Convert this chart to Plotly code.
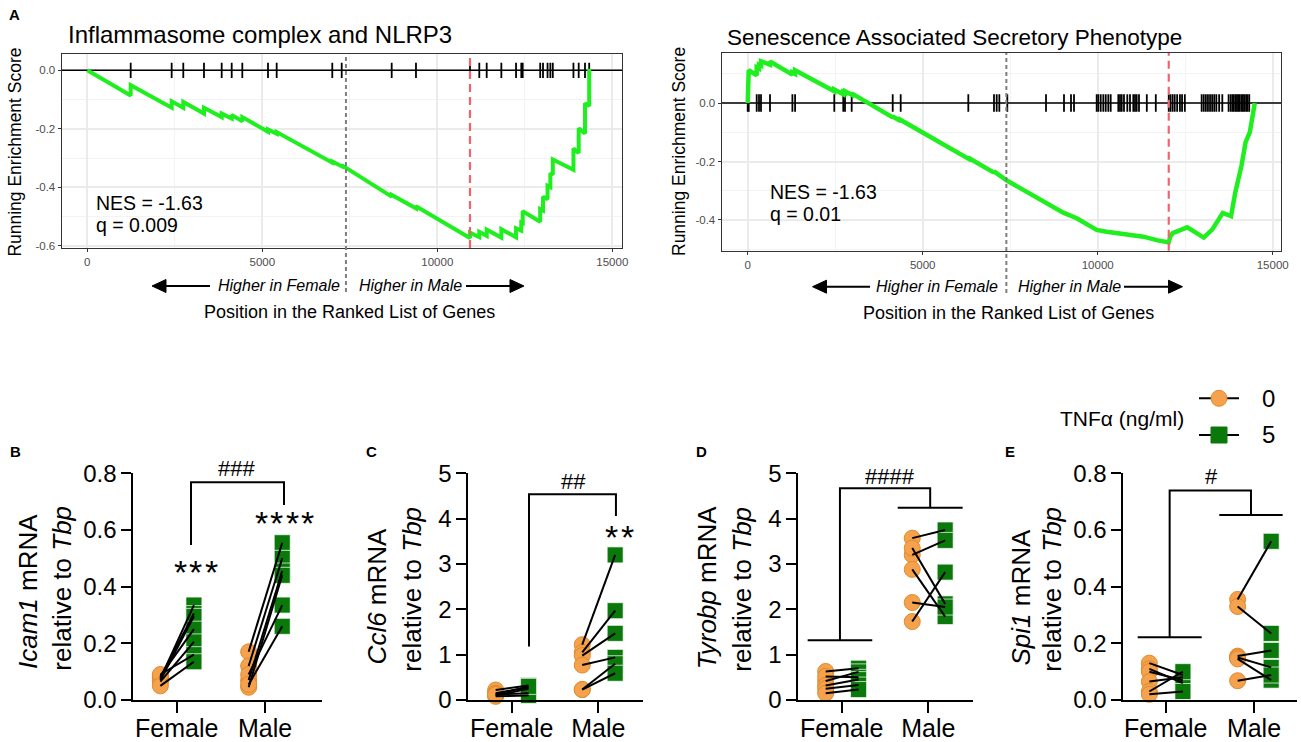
import plotly.graph_objects as go

W, H = 1301, 742
def px(x): return x / W
def py(y): return 1 - y / H

FONT = "Liberation Sans"

# ---------------- data: GSEA (panel A) ----------------
nlrp3_hits = [1240, 2411, 2743, 3334, 3840, 4126, 4429, 5163, 5411, 7000, 7269, 8697, 9391,
              10934, 11200, 11411, 11830, 12250, 12400, 12440, 12940, 13020, 13150, 13230, 13300,
              13890, 14040, 14220, 14340]
nlrp3_es_x = [0, 1240, 1240, 2411, 2411, 2743, 2743, 3334, 3334, 3840, 3840, 4126, 4126, 4429, 4429,
              5163, 5163, 5411, 5411, 7000, 7000, 7269, 7269, 8697, 8697, 9391, 9391,
              10934, 10934, 11200, 11200, 11411, 11411, 11830, 11830, 12250, 12250, 12400, 12400,
              12440, 12440, 12940, 12940, 13020, 13020, 13150, 13150, 13230, 13230, 13300, 13300,
              13890, 13890, 14040, 14040, 14220, 14220, 14340, 14340]
nlrp3_es_y = [0, -0.086, -0.051, -0.128, -0.106, -0.128, -0.108, -0.148, -0.128, -0.160, -0.148,
              -0.165, -0.153, -0.174, -0.160, -0.210, -0.202, -0.217, -0.211, -0.316, -0.312,
              -0.328, -0.324, -0.432, -0.426, -0.472, -0.465, -0.573, -0.555, -0.570, -0.552,
              -0.566, -0.545, -0.572, -0.543, -0.571, -0.540, -0.548, -0.520, -0.522, -0.482,
              -0.518, -0.474, -0.479, -0.432, -0.441, -0.395, -0.400, -0.352, -0.357, -0.305,
              -0.340, -0.267, -0.283, -0.198, -0.216, -0.113, -0.122, 0.005]

sasp_hits = [0, 29, 257, 323, 380, 637, 1277, 1354, 2474, 2731, 2780, 2971, 4143, 4371, 6303, 7037,
             7114, 7189, 7417, 8523, 9037, 9237, 9323, 9971, 10017, 10086, 10160, 10229, 10303, 10371,
             10589, 10637, 10686, 10751, 10846, 10923, 11017, 11066, 11114, 11180, 11403, 11660,
             12030, 12080, 12140, 12200, 12270, 12350, 12410, 12490, 12970, 13030, 13090, 13150,
             13210, 13270, 13330, 13390, 13470, 13560, 13740, 13800, 13850, 13890, 13940, 13980,
             14020, 14060, 14110, 14150, 14190, 14240, 14280, 14330]
sasp_es_x = [0, 0, 29, 257, 257, 323, 323, 380, 380, 637, 637, 1277, 1277, 1354, 1354, 2474, 2474,
             2731, 2731, 2780, 2780, 2971, 2971, 4143, 4143, 4371, 4371, 6303, 6303, 7037, 7037,
             7417, 8494, 9017, 9400, 9971, 10257, 10733, 11305, 11686, 12026, 12080, 12140, 12560,
             13030, 13270, 13572, 13810, 13929, 14107, 14226, 14345, 14428, 14488]
sasp_es_y = [0, 0.069, 0.112, 0.095, 0.122, 0.118, 0.131, 0.128, 0.143, 0.131, 0.142, 0.097, 0.104,
             0.099, 0.112, 0.040, 0.046, 0.030, 0.037, 0.034, 0.040, 0.028, 0.033, -0.049, -0.046,
             -0.062, -0.058, -0.190, -0.187, -0.238, -0.234, -0.266, -0.341, -0.375, -0.394,
             -0.434, -0.440, -0.449, -0.457, -0.469, -0.477, -0.455, -0.445, -0.425, -0.460,
             -0.433, -0.376, -0.387, -0.307, -0.215, -0.134, -0.100, -0.043, 0.0]

gsea_x_ticks = [0, 5000, 10000, 15000]

# ---------------- data: qPCR (panels B-E) ----------------
groups = ["Female", "Male"]
icam1_f0 = [0.075, 0.08, 0.07, 0.085, 0.065, 0.09, 0.05]
icam1_f5 = [0.335, 0.305, 0.295, 0.25, 0.205, 0.16, 0.135]
icam1_m0 = [0.17, 0.12, 0.07, 0.045, 0.09, 0.055]
icam1_m5 = [0.555, 0.50, 0.455, 0.44, 0.335, 0.26]
ccl6_f0 = [0.22, 0.15, 0.12, 0.10, 0.08, 0.12]
ccl6_f5 = [0.32, 0.28, 0.15, 0.25, 0.10, 0.30]
ccl6_m0 = [1.22, 1.05, 0.98, 0.77, 0.23, 0.23]
ccl6_m5 = [3.20, 1.97, 1.47, 0.94, 0.80, 0.59]
tyrobp_f0 = [0.63, 0.42, 0.52, 0.32, 0.25, 0.15]
tyrobp_f5 = [0.70, 0.62, 0.50, 0.45, 0.33, 0.23]
tyrobp_m0 = [3.57, 3.20, 3.35, 2.88, 2.15, 1.73]
tyrobp_m5 = [3.75, 3.52, 2.12, 1.84, 2.05, 2.82]
spi1_f0 = [0.13, 0.11, 0.10, 0.065, 0.03, 0.02]
spi1_f5 = [0.088, 0.06, 0.07, 0.08, 0.10, 0.03]
spi1_m0 = [0.355, 0.33, 0.155, 0.15, 0.145, 0.068]
spi1_m5 = [0.56, 0.235, 0.175, 0.115, 0.07, 0.088]

ORANGE = "#F5A24E"
ORANGE_EDGE = "#E08A2C"
GREEN = "#0B780B"
LIME = "#1FEE1F"

fig = go.Figure()

# ---------------- GSEA traces ----------------
def gsea(xa, ya, hits, ex, ey, th, lw, xr):
    fig.add_trace(go.Scatter(x=xr, y=[0, 0], mode="lines", line=dict(color="black", width=1.6),
                             xaxis=xa, yaxis=ya, showlegend=False, hoverinfo="skip"))
    hx, hy = [], []
    for h in hits:
        hx += [h, h, None]
        hy += [-th, th, None]
    fig.add_trace(go.Scatter(x=hx, y=hy, mode="lines", line=dict(color="black", width=1.8),
                             xaxis=xa, yaxis=ya, showlegend=False, hoverinfo="skip"))
    fig.add_trace(go.Scatter(x=ex, y=ey, mode="lines", line=dict(color=LIME, width=lw),
                             xaxis=xa, yaxis=ya, showlegend=False, hoverinfo="skip"))

XR1 = [-731, 15277]
XR2 = [-743, 15237]
gsea("x", "y", nlrp3_hits, nlrp3_es_x, nlrp3_es_y, 0.026, 4, XR1)
gsea("x2", "y2", sasp_hits, sasp_es_x, sasp_es_y, 0.03, 4.5, XR2)

# ---------------- paired dot plots ----------------
OFF0, OFF5 = -0.185, 0.195
def paired(n, f0, f5, m0, m5):
    xa, ya = "x%d" % n, "y%d" % n
    x0 = [1 + OFF0] * len(f0) + [2 + OFF0] * len(m0)
    y0 = f0 + m0
    x5 = [1 + OFF5] * len(f5) + [2 + OFF5] * len(m5)
    y5 = f5 + m5
    fig.add_trace(go.Scatter(x=x0, y=y0, mode="markers", xaxis=xa, yaxis=ya, cliponaxis=False,
                             marker=dict(symbol="circle", size=16, color=ORANGE,
                                         line=dict(color=ORANGE_EDGE, width=1)),
                             showlegend=False, hoverinfo="skip"))
    fig.add_trace(go.Scatter(x=x5, y=y5, mode="markers", xaxis=xa, yaxis=ya, cliponaxis=False,
                             marker=dict(symbol="square", size=16, color=GREEN,
                                         line=dict(color="rgba(255,255,255,0.7)", width=1)),
                             showlegend=False, hoverinfo="skip"))
    lx, ly = [], []
    for a, b in zip(f0, f5):
        lx += [1 + OFF0, 1 + OFF5, None]; ly += [a, b, None]
    for a, b in zip(m0, m5):
        lx += [2 + OFF0, 2 + OFF5, None]; ly += [a, b, None]
    fig.add_trace(go.Scatter(x=lx, y=ly, mode="lines", xaxis=xa, yaxis=ya,
                             line=dict(color="black", width=2), showlegend=False, hoverinfo="skip"))

paired(3, icam1_f0, icam1_f5, icam1_m0, icam1_m5)
paired(4, ccl6_f0, ccl6_f5, ccl6_m0, ccl6_m5)
paired(5, tyrobp_f0, tyrobp_f5, tyrobp_m0, tyrobp_m5)
paired(6, spi1_f0, spi1_f5, spi1_m0, spi1_m5)

# ---------------- axes ----------------
top_font = dict(family=FONT, size=11.5, color="#4D4D4D")
def top_x(dom, rng):
    return dict(domain=[px(dom[0]), px(dom[1])], range=rng, showline=True, mirror=True,
                linecolor="#333333", linewidth=1.3, ticks="outside", ticklen=3, tickcolor="#333333",
                tickwidth=1, showgrid=True, gridcolor="#EBEBEB", gridwidth=1.6, zeroline=False,
                automargin=False,
                tickmode="array", tickvals=gsea_x_ticks, ticktext=[str(v) for v in gsea_x_ticks],
                tickfont=top_font,
                minor=dict(dtick=2500, tick0=0, showgrid=True, gridcolor="#F3F3F3",
                           gridwidth=1, ticks=""))
def top_y(dom, rng, vals):
    return dict(domain=[py(dom[1]), py(dom[0])], range=rng, showline=True, mirror=True,
                linecolor="#333333", linewidth=1.3, ticks="outside", ticklen=3, tickcolor="#333333",
                tickwidth=1, showgrid=True, gridcolor="#EBEBEB", gridwidth=1.6, zeroline=False,
                automargin=False,
                tickmode="array", tickvals=vals, ticktext=["%.1f" % v for v in vals], tickfont=top_font,
                minor=dict(dtick=0.1, tick0=0, showgrid=True, gridcolor="#F3F3F3", gridwidth=1, ticks=""))

layout_axes = {}
layout_axes["xaxis"] = top_x((61.7, 622), XR1) | dict(anchor="y")
layout_axes["yaxis"] = top_y((54, 248), [-0.6075, 0.0557], [0, -0.2, -0.4, -0.6]) | dict(anchor="x")
layout_axes["xaxis2"] = top_x((721.7, 1281), XR2) | dict(anchor="y2")
layout_axes["yaxis2"] = top_y((53, 250.7), [-0.505, 0.171], [0, -0.2, -0.4]) | dict(anchor="x2")

bot_tick = dict(family=FONT, size=24, color="black")
panels = {
    3: dict(x=(133.3, 321.7), xr=[0.5085, 2.642], yr=[0, 0.8], yt=[0, 0.2, 0.4, 0.6, 0.8], fmt="%.1f"),
    4: dict(x=(468.3, 643.3), xr=[0.499, 2.52], yr=[0, 5], yt=[0, 1, 2, 3, 4, 5], fmt="%d"),
    5: dict(x=(798.3, 973.3), xr=[0.499, 2.52], yr=[0, 5], yt=[0, 1, 2, 3, 4, 5], fmt="%d"),
    6: dict(x=(1123.3, 1296.7), xr=[0.52, 2.484], yr=[0, 0.8], yt=[0, 0.2, 0.4, 0.6, 0.8], fmt="%.1f"),
}
for n, p in panels.items():
    layout_axes["xaxis%d" % n] = dict(domain=[px(p["x"][0]), px(p["x"][1])], range=p["xr"],
        anchor="y%d" % n, showline=True, linecolor="black", linewidth=2, ticks="outside",
        ticklen=11, tickwidth=2, tickcolor="black", showgrid=False, zeroline=False,
        automargin=False,
        tickmode="array", tickvals=[1, 2], ticktext=groups, ticklabelstandoff=-6,
        tickfont=dict(family=FONT, size=25, color="black"))
    layout_axes["yaxis%d" % n] = dict(domain=[py(700), py(473.3)], range=p["yr"], anchor="x%d" % n,
        showline=True, linecolor="black", linewidth=2, ticks="outside", ticklen=10, tickwidth=2,
        tickcolor="black", showgrid=False, zeroline=False, automargin=False,
        tickmode="array", tickvals=p["yt"],
        ticktext=[p["fmt"] % v for v in p["yt"]], tickfont=bot_tick)

# ---------------- shapes ----------------
shapes = []
shapes.append(dict(type="line", xref="x", yref="paper", x0=10934, x1=10934, y0=py(248), y1=py(54),
                   line=dict(color="#F2646B", width=2.2, dash="8px,5px")))
shapes.append(dict(type="line", xref="x2", yref="paper", x0=12030, x1=12030, y0=py(250.7), y1=py(53),
                   line=dict(color="#F2646B", width=2.2, dash="8px,5px")))
shapes.append(dict(type="line", xref="x", yref="paper", x0=7390, x1=7390, y0=py(292), y1=py(54),
                   line=dict(color="#7F7F7F", width=2, dash="4px,3px")))
shapes.append(dict(type="line", xref="x2", yref="paper", x0=7390, x1=7390, y0=py(293), y1=py(53),
                   line=dict(color="#7F7F7F", width=2, dash="4px,3px")))

def arrow(tail, tip, yy):
    d = 14 if tip > tail else -14
    base = tip - d
    shapes.append(dict(type="line", xref="paper", yref="paper", x0=px(tail), x1=px(base),
                       y0=py(yy), y1=py(yy), line=dict(color="black", width=2)))
    shapes.append(dict(type="path", xref="paper", yref="paper",
                       path="M %f,%f L %f,%f L %f,%f Z" % (px(tip), py(yy), px(base), py(yy - 6.5),
                                                            px(base), py(yy + 6.5)),
                       fillcolor="black", line=dict(color="black", width=1)))
arrow(210, 152, 286)
arrow(466, 524, 286)
arrow(870, 812.5, 286.7)
arrow(1124, 1182.5, 286.7)

def bracket(n, pts):
    path = "M " + " L ".join("%f,%f" % p for p in pts)
    shapes.append(dict(type="path", xref="x%d" % n, yref="y%d" % n, path=path,
                       line=dict(color="black", width=2)))
bracket(3, [(1.162, 0.547), (1.162, 0.768), (2.215, 0.768), (2.215, 0.688)])
bracket(4, [(1.2, 1.18), (1.2, 4.54), (2.204, 4.54), (2.204, 4.06)])
bracket(5, [(0.607, 1.32), (1.353, 1.32)])
bracket(5, [(1.647, 4.24), (2.397, 4.24)])
bracket(5, [(0.98, 1.32), (0.98, 4.67), (2.022, 4.67), (2.022, 4.24)])
bracket(6, [(0.683, 0.221), (1.408, 0.221)])
bracket(6, [(1.607, 0.653), (2.325, 0.653)])
bracket(6, [(1.045, 0.221), (1.045, 0.739), (1.966, 0.739), (1.966, 0.653)])

for yy in (398.3, 435):
    shapes.append(dict(type="line", xref="paper", yref="paper", x0=px(1199), x1=px(1239),
                       y0=py(yy), y1=py(yy), line=dict(color="black", width=2)))
shapes.append(dict(type="circle", xref="paper", yref="paper", x0=px(1211), x1=px(1227),
                   y0=py(406.3), y1=py(390.3), fillcolor=ORANGE, line=dict(color=ORANGE_EDGE, width=1)))
shapes.append(dict(type="rect", xref="paper", yref="paper", x0=px(1211), x1=px(1227),
                   y0=py(443), y1=py(427), fillcolor=GREEN, line=dict(color=GREEN, width=1)))

# ---------------- annotations ----------------
ann = []
def text(x, y, s, size, xanchor="center", yanchor="middle", angle=0, color="black", bold=False, italic=False):
    if bold: s = "<b>" + s + "</b>"
    if italic: s = "<i>" + s + "</i>"
    ann.append(dict(x=px(x), y=py(y), xref="paper", yref="paper", text=s, showarrow=False,
                    xanchor=xanchor, yanchor=yanchor, textangle=angle,
                    font=dict(family=FONT, size=size, color=color)))

text(14, 15, "A", 15, bold=True)
text(66, 35, "Inflammasome complex and NLRP3", 24, xanchor="left")
text(725, 37.7, "Senescence Associated Secretory Phenotype", 22.5, xanchor="left")
text(14.6, 152, "Running Enrichment Score", 17.5, angle=-90)
text(679, 152, "Running Enrichment Score", 17.5, angle=-90)
text(94, 203, "NES = -1.63", 19.5, xanchor="left")
text(94, 225, "q = 0.009", 19.5, xanchor="left")
text(768, 191.5, "NES = -1.63", 19.5, xanchor="left")
text(768, 213.5, "q = 0.01", 19.5, xanchor="left")
text(341.7, 286, "Higher in Female", 16, xanchor="right", italic=True)
text(357, 286, "Higher in Male", 16, xanchor="left", italic=True)
text(1000, 286.7, "Higher in Female", 16, xanchor="right", italic=True)
text(1015.7, 286.7, "Higher in Male", 16, xanchor="left", italic=True)
text(349.5, 311.7, "Position in the Ranked List of Genes", 18)
text(1008, 312.7, "Position in the Ranked List of Genes", 18)

text(15, 451.7, "B", 15, bold=True)
text(371.7, 451.7, "C", 15, bold=True)
text(701.7, 451.7, "D", 15, bold=True)
text(1010, 451.7, "E", 15, bold=True)

text(27.3, 591.7, "<i>Icam1</i> mRNA", 26, angle=-90)
text(61.7, 588, "relative to <i>Tbp</i>", 26, angle=-90)
text(376.7, 596.7, "<i>Ccl6</i> mRNA", 26, angle=-90)
text(411.7, 589, "relative to <i>Tbp</i>", 26, angle=-90)
text(706.7, 587.5, "<i>Tyrobp</i> mRNA", 26, angle=-90)
text(741.7, 589, "relative to <i>Tbp</i>", 26, angle=-90)
text(1020, 597.5, "<i>Spi1</i> mRNA", 26, angle=-90)
text(1051.7, 589, "relative to <i>Tbp</i>", 26, angle=-90)

text(236.7, 468.3, "###", 22)
text(573.3, 481.7, "##", 22)
text(890, 476, "####", 22)
text(1211.7, 476.7, "#", 22)
def stars(cx, cy, n, pitch=15.5, size=34):
    start = cx - pitch * (n - 1) / 2
    for i in range(n):
        text(start + i * pitch, cy + 0.15 * size, "*", size)
stars(195.8, 566.7, 3)
stars(284.5, 518.3, 4)
stars(619.7, 531.7, 2)

text(1122.3, 418.3, "TNFα (ng/ml)", 21)
text(1268.3, 398.3, "0", 24)
text(1268.3, 435, "5", 24)

fig.update_layout(width=W, height=H, margin=dict(l=0, r=0, t=0, b=0, autoexpand=False),
                  paper_bgcolor="white", plot_bgcolor="white",
                  font=dict(family=FONT, color="black"), showlegend=False,
                  shapes=shapes, annotations=ann, **layout_axes)

fig.write_html("out.html", config={"displayModeBar": False},
               post_script="document.body.style.margin='0';document.body.style.overflow='hidden';")
